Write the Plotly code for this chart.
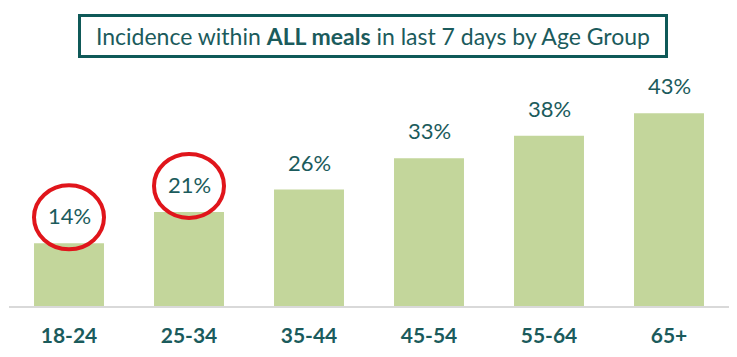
import plotly.graph_objects as go

categories = ["18-24", "25-34", "35-44", "45-54", "55-64", "65+"]
values = [14, 21, 26, 33, 38, 43]
labels = ["14%", "21%", "26%", "33%", "38%", "43%"]
circled = ["18-24", "25-34"]

TEAL = "#1b5b5c"
BAR = "#c3d69b"

fig = go.Figure()
fig.add_trace(go.Bar(x=categories, y=values, marker=dict(color=BAR, line=dict(width=0)),
                     hoverinfo="skip"))

for c, v, t in zip(categories, values, labels):
    fig.add_annotation(x=c, y=v, text=t, showarrow=False, yanchor="bottom", yshift=12,
                       font=dict(family="Lato", size=22, color=TEAL))

for c in circled:
    i = categories.index(c)
    v = values[i]
    fig.add_shape(type="circle", xref="x", yref="y", xsizemode="pixel", ysizemode="pixel",
                  xanchor=i, yanchor=v, x0=-35, x1=35, y0=-6, y1=58,
                  line=dict(color="#e0151b", width=4), fillcolor="rgba(0,0,0,0)")

fig.add_annotation(xref="paper", yref="paper", x=0.5049, y=1.207, xanchor="center", yanchor="middle",
                   text="Incidence within <b>ALL meals</b> in last 7 days by Age Group",
                   showarrow=False, width=584, height=38, bordercolor="#0f5958", borderwidth=3,
                   borderpad=0, font=dict(family="Lato", size=23, color=TEAL))

fig.update_layout(
    width=737, height=357,
    margin=dict(l=1, r=16, t=73.5, b=59, autoexpand=False),
    paper_bgcolor="white", plot_bgcolor="white",
    bargap=0.417, showlegend=False,
    xaxis=dict(showline=True, linecolor="#d9d9d9", linewidth=2, showgrid=False, automargin=False,
               ticks="outside", ticklen=10, tickcolor="rgba(0,0,0,0)",
               tickfont=dict(family="Lato", size=21, color=TEAL, weight="bold")),
    yaxis=dict(range=[0, 50], visible=False, showgrid=False, zeroline=False, automargin=False),
)

fig.write_html("out.html")
